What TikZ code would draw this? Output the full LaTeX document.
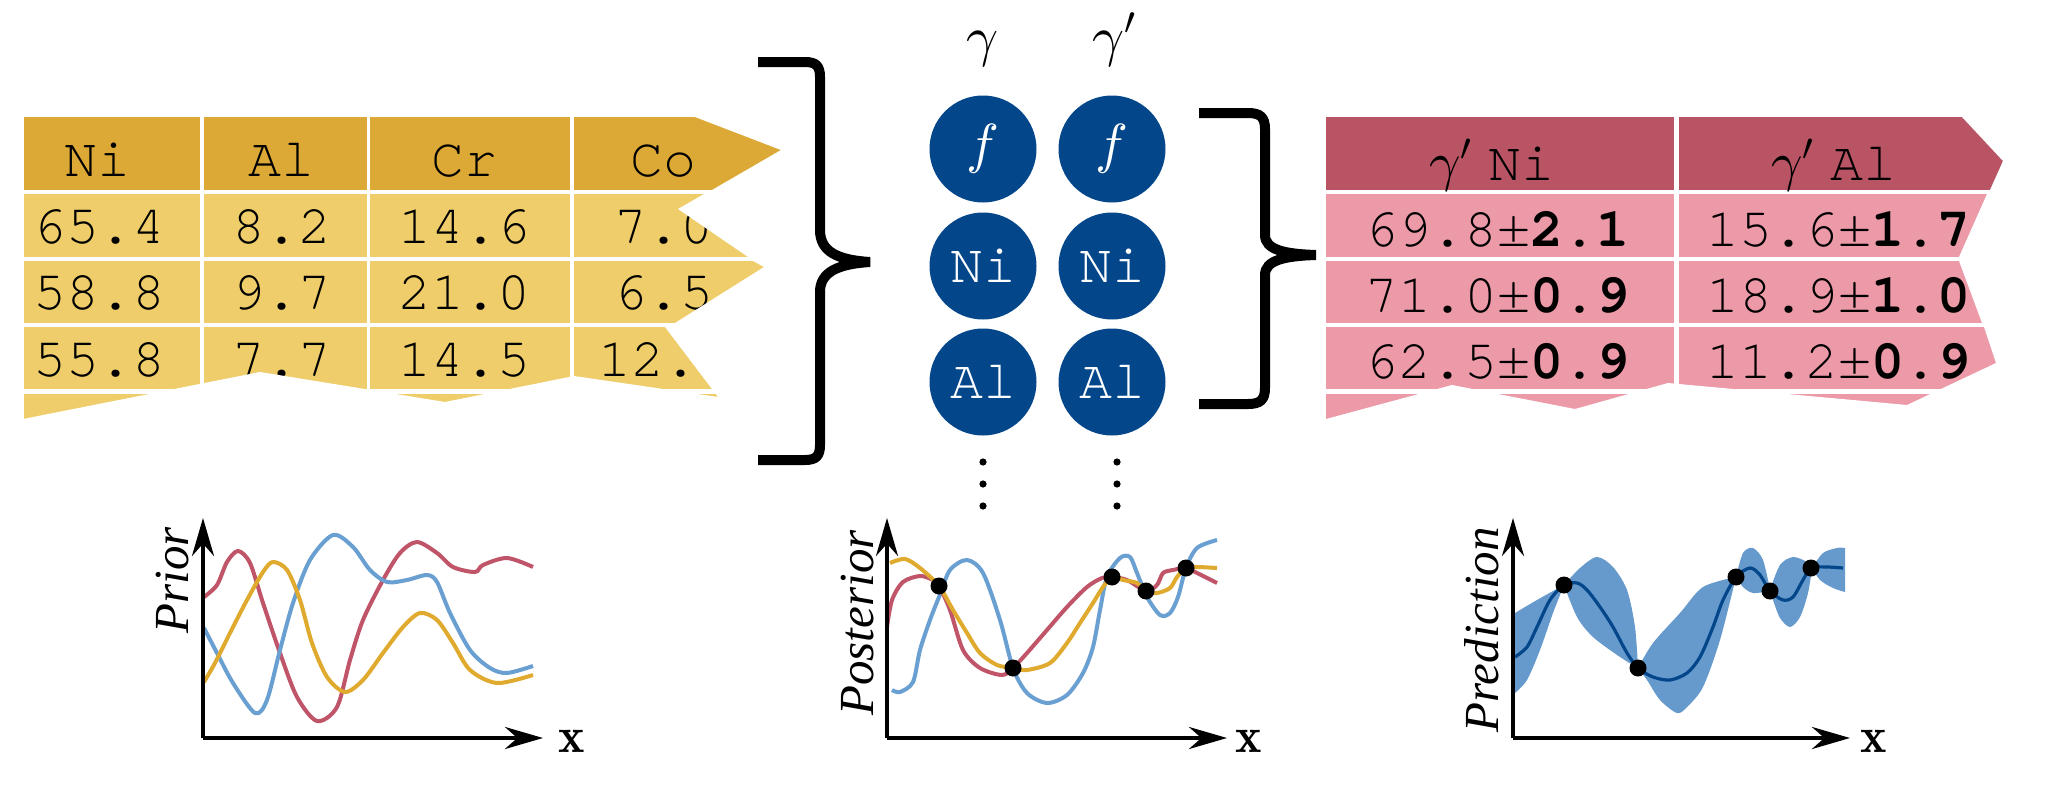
\documentclass[tikz,border=0pt]{standalone}
\usepackage{fontspec}
\setmonofont{texgyrecursor}[Extension=.otf,UprightFont=*-regular,BoldFont=*-bold]
\newfontfamily\labelfont{Liberation Serif}
\DeclareFontShape{OML}{cmm}{m}{it}{<->cmmi10}{}
\DeclareFontShape{OMS}{cmsy}{m}{n}{<->cmsy10}{}
\usetikzlibrary{arrows.meta}
\definecolor{goldhead}{HTML}{DDA936}
\definecolor{goldrow}{HTML}{EECD6A}
\definecolor{rosehead}{HTML}{B95465}
\definecolor{roserow}{HTML}{EC99A8}
\definecolor{bubble}{HTML}{03468A}
\definecolor{cred}{HTML}{C05468}
\definecolor{cyel}{HTML}{E0AA2E}
\definecolor{cblue}{HTML}{6A9FD2}
\definecolor{band}{HTML}{6699CC}

\begin{document}
\begin{tikzpicture}[x=0.5pt,y=-0.5pt,
  tab/.style={font=\fontsize{27.5}{30}\selectfont\ttfamily,anchor=base,inner sep=0pt},
  bub/.style={circle,fill=bubble,minimum size=53.5pt,inner sep=0pt,text=white,
              font=\fontsize{27.5}{30}\selectfont\ttfamily},
  phase/.style={font=\fontsize{28}{30}\selectfont,anchor=base,inner sep=0pt},
  brace/.style={line width=5pt,line join=miter},
  axis/.style={line width=2pt,-{Stealth[length=19pt,width=11pt]}},
  curve/.style={line width=2pt},
  obs/.style={circle,fill=black,inner sep=0pt,minimum size=8.5pt},
  ylab/.style={font=\fontsize{24.5}{26}\selectfont\labelfont\itshape,rotate=90,
               anchor=base east,inner sep=0pt},
  xlab/.style={font=\fontsize{25}{26}\selectfont,inner sep=0pt}
]
\useasboundingbox (0,0) rectangle (2047,787);
\fill[white] (0,0) rectangle (2047,787);

%--- Left table: compositions ---
\foreach \xa/\xb in {23.5/200,203.5/367,370/570,574/795}{
  \fill[goldhead] (\xa,117) rectangle (\xb,190);
  \foreach \ya/\yb in {194/257,261/323,327/389,394/430}
    \fill[goldrow] (\xa,\ya) rectangle (\xb,\yb);
}
\foreach \t/\x [count=\i] in {Ni/97,Al/281,Cr/464,Co/663}
  \node[tab] (lh\i) at (\x,176) {\t};
\foreach \y/\a/\b/\c/\d [count=\r] in {243/65.4/8.2/14.6/7.0,
    309/58.8/9.7/21.0/6.5, 376/55.8/7.7/14.5/12.\phantom{0}}{
  \node[tab] (l\r-1) at (99,\y) {\a};
  \node[tab] (l\r-2) at (282,\y) {\b};
  \node[tab] (l\r-3) at (464,\y) {\c};
  \node[tab] (l\r-4) at (664,\y) {\d};
}
% torn edge
\fill[white] (800,110) -- (695,110) -- (695,117) -- (781,150) -- (712,190)
  -- (704,194) -- (678,209) -- (748,257) -- (753,261) -- (764,267) -- (675,323)
  -- (665,327) -- (712,389) -- (718,397) -- (574,376) -- (445,402) -- (260,372)
  -- (23,419) -- (20,419) -- (20,432) -- (800,432) -- cycle;

%--- Right table: predictions ---
\foreach \xa/\xb in {1326/1674,1679/2040}{
  \fill[rosehead] (\xa,117) rectangle (\xb,190);
  \foreach \ya/\yb in {194/257,261/323,327/389,394/430}
    \fill[roserow] (\xa,\ya) rectangle (\xb,\yb);
}
\node[tab] (rh1) at (1492,180) {$\gamma'$\hspace{0.3em}Ni};
\node[tab] (rh2) at (1834,180) {$\gamma'$\hspace{0.3em}Al};
\foreach \y/\a/\b/\c/\d [count=\r] in {246/69.8/2.1/15.6/1.7,
    312/71.0/0.9/18.9/1.0, 378/62.5/0.9/11.2/0.9}{
  \node[tab] (r\r-1) at (1497,\y) {\a±\textbf{\b}};
  \node[tab] (r\r-2) at (1838,\y) {\c±\textbf{\d}};
}
% torn edge
\fill[white] (2047,110) -- (1962,110) -- (1962,117) -- (2003,161) -- (1990,190)
  -- (1987,194) -- (1959,257) -- (1959,261) -- (1982,323) -- (1984,327)
  -- (1996,363) -- (1907,405) -- (1668,383) -- (1575,409) -- (1452,385)
  -- (1326,419) -- (1320,419) -- (1320,432) -- (2047,432) -- cycle;

%--- Braces ---
\draw[brace] (758,62) -- (805,62) .. controls (816,62) and (820,66) .. (820,77)
  -- (820,230) .. controls (820,252) and (838,260) .. (870,262)
  .. controls (838,264) and (820,272) .. (820,292)
  -- (820,445) .. controls (820,456) and (816,460) .. (805,460) -- (758,460);
\draw[brace] (1199,113) -- (1248,113) .. controls (1260,113) and (1265,117) .. (1265,129)
  -- (1265,235) .. controls (1265,250) and (1285,254) .. (1316,255)
  .. controls (1285,256) and (1265,260) .. (1265,275)
  -- (1265,388) .. controls (1265,400) and (1260,404) .. (1248,404) -- (1199,404);

%--- Middle: two phases ---
\node[phase] (gam) at (983,55) {$\gamma$};
\node[phase] (gamp) at (1114,55) {$\gamma'$};
\node[bub] (a1) at (983,149) {$f$};
\node[bub] (a2) at (983,266) {Ni};
\node[bub] (a3) at (983,382) {Al};
\node[bub] (b1) at (1112,149) {$f$};
\node[bub] (b2) at (1112,266) {Ni};
\node[bub] (b3) at (1112,382) {Al};
\foreach \x in {983,1117}
  \foreach \y in {462,484,506}
    \fill (\x,\y) circle (1.8pt);

%--- Prior ---
\draw[curve,cred] plot[smooth] coordinates {(204,597) (217,585) (227,562) (238,551)
  (250,563) (263,603) (280,653) (297,697) (317,721) (337,707) (350,660) (363,620)
  (383,580) (400,553) (417,542) (437,553) (453,567) (475,572) (483,565) (507,558) (533,567)};
\draw[curve,cblue] plot[smooth] coordinates {(204,628) (217,653) (233,683) (255,713)
  (267,700) (280,650) (293,603) (310,560) (333,535) (353,547) (370,570) (387,582)
  (407,580) (427,575) (437,582) (450,613) (470,650) (490,668) (507,673) (533,666)};
\draw[curve,cyel] plot[smooth] coordinates {(204,682) (215,663) (230,633) (247,600)
  (263,572) (273,562) (287,570) (300,600) (312,643) (327,677) (345,692) (363,680)
  (383,653) (403,627) (420,613) (437,620) (453,643) (470,670) (497,683) (533,675)};
\coordinate (o1) at (203,738);
\coordinate (y1) at (203,518);
\coordinate (x1) at (543,738);
\draw[axis] (o1) -- (y1);
\draw[axis] (o1) -- (x1);
\node[xlab] (xl1) at (572,741) {$\mathbf{x}$};
\node[ylab] (yl1) at (188,527) {Prior};

%--- Posterior ---
\draw[curve,cblue] plot[smooth] coordinates {(892,690) (900,692) (913,682) (920,650)
  (930,620) (939,597) (950,570) (967,560) (983,573) (1000,620) (1013,668) (1027,693)
  (1047,703) (1067,695) (1083,673) (1093,647) (1100,610) (1107,577) (1120,558)
  (1130,557) (1137,573) (1147,597) (1160,615) (1170,613) (1178,597) (1186,568)
  (1197,548) (1217,540)};
\draw[curve,cred] plot[smooth] coordinates {(887,627) (892,600) (903,582) (920,576)
  (933,580) (939,586) (950,610) (963,650) (980,668) (1002,675) (1013,668) (1027,653)
  (1047,630) (1067,607) (1087,587) (1102,578) (1112,577) (1127,580) (1146,591)
  (1157,585) (1163,573) (1173,570) (1186,568) (1197,573) (1217,583)};
\draw[curve,cyel] plot[smooth] coordinates {(890,563) (905,559) (920,568) (939,586)
  (953,610) (967,633) (980,653) (997,665) (1013,668) (1027,670) (1050,663) (1067,643)
  (1080,623) (1093,603) (1103,587) (1112,577) (1123,580) (1137,583) (1146,591)
  (1157,593) (1170,588) (1177,577) (1186,568) (1197,567) (1217,568)};
\foreach \x/\y [count=\i] in {939/586,1013/668,1112/577,1146/591,1186/568}
  \node[obs] (p\i) at (\x,\y) {};
\coordinate (o2) at (887,738);
\coordinate (y2) at (887,518);
\coordinate (x2) at (1227,738);
\draw[axis] (o2) -- (y2);
\draw[axis] (o2) -- (x2);
\node[xlab] (xl2) at (1249,741) {$\mathbf{x}$};
\node[ylab] (yl2) at (873,530) {Posterior};

%--- Prediction ---
\fill[band] plot[smooth] coordinates {(1515,613) (1537,600) (1564,585)}
  -- plot[smooth] coordinates {(1564,585) (1553,613) (1540,650) (1527,680) (1515,693)} -- cycle;
\fill[band] plot[smooth] coordinates {(1564,585) (1580,568) (1597,557) (1613,567)
  (1627,590) (1635,627) (1638,668)}
  -- plot[smooth] coordinates {(1638,668) (1620,657) (1593,637) (1577,617) (1564,585)} -- cycle;
\fill[band] plot[smooth] coordinates {(1638,668) (1653,643) (1680,613) (1703,587) (1736,577)}
  -- plot[smooth] coordinates {(1736,577) (1720,640) (1703,687) (1687,707) (1677,713)
  (1660,700) (1647,680) (1638,668)} -- cycle;
\fill[band] plot[smooth] coordinates {(1736,577) (1743,553) (1753,548) (1763,560) (1770,590)}
  -- plot[smooth] coordinates {(1770,591) (1753,593) (1743,587) (1736,577)} -- cycle;
\fill[band] plot[smooth] coordinates {(1770,590) (1780,565) (1793,557) (1807,562) (1812,568)}
  -- plot[smooth] coordinates {(1812,568) (1808,593) (1800,617) (1790,627) (1780,618)
  (1773,600) (1770,591)} -- cycle;
\fill[band] plot[smooth] coordinates {(1812,568) (1823,553) (1837,548) (1845,548)}
  -- (1845,592) -- plot[smooth] coordinates {(1845,592) (1833,588) (1820,580) (1812,568)} -- cycle;
\draw[line width=1.6pt,bubble] plot[smooth] coordinates {(1515,657) (1527,647) (1537,627)
  (1550,600) (1564,585) (1577,583) (1587,590) (1600,607) (1613,627) (1627,653)
  (1638,668) (1653,677) (1670,680) (1687,673) (1700,657) (1713,627) (1723,600)
  (1736,577) (1750,568) (1760,575) (1770,591) (1783,600) (1793,597) (1803,580)
  (1811,568) (1827,567) (1843,568)};
\foreach \x/\y [count=\i] in {1564/585,1638/668,1736/577,1770/591,1811/568}
  \node[obs] (q\i) at (\x,\y) {};
\coordinate (o3) at (1513,738);
\coordinate (y3) at (1513,518);
\coordinate (x3) at (1850,738);
\draw[axis] (o3) -- (y3);
\draw[axis] (o3) -- (x3);
\node[xlab] (xl3) at (1874,741) {$\mathbf{x}$};
\node[ylab] (yl3) at (1498,527) {Prediction};
\end{tikzpicture}
\end{document}
